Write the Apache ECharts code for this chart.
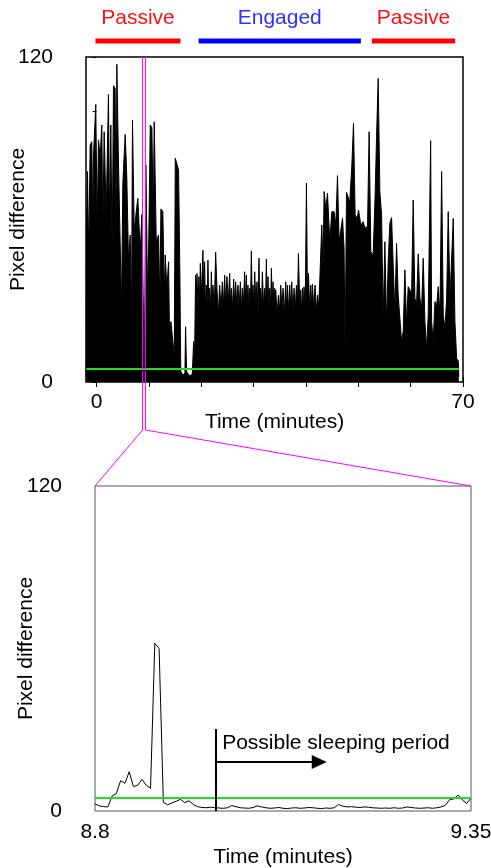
<!DOCTYPE html>
<html><head><meta charset="utf-8">
<script src="https://cdn.jsdelivr.net/npm/echarts@6/dist/echarts.min.js"></script>
<style>html,body{margin:0;padding:0;background:#fff}#chart{width:491px;height:868px}</style>
</head><body><div id="chart"></div>
<script>
// ---------- data ----------
// overview (minutes, pixel difference): passive, engaged, passive parts
const overviewTimes = [
-1.95,-1.91,-1.72,-1.47,-1.21,-0.9,-0.7,-0.57,-0.13,0.13,0.38,0.7,1.02,1.21,1.47,1.85,2.29,2.49,2.74,3.0,
3.25,3.57,3.76,3.89,4.21,4.52,4.78,5.03,5.49,5.8,6.12,6.44,6.69,6.88,7.21,7.59,7.9,8.36,8.67,8.89,
9.15,9.43,9.75,9.94,10.27,10.58,10.84,11.03,11.42,11.86,12.11,12.3,12.68,12.95,13.13,13.44,13.77,13.96,14.21,14.59,
14.86,15.05,15.36,15.68,15.93,16.1,16.5,16.89,17.02,17.21,17.78,18.3,18.55,18.74,
18.93,19.06,19.19,19.38,19.57,19.7,19.83,20.08,20.33,20.49,
20.65,20.82,20.98,21.13,21.29,21.45,21.61,21.78,21.94,22.09,
22.24,22.5,22.76,23.01,23.27,23.52,23.78,24.04,24.29,24.48,
24.7,24.92,25.19,25.44,25.6,25.76,25.98,26.2,26.39,26.58,
26.83,27.02,27.25,27.48,27.67,27.86,28.08,28.3,28.47,28.63,
28.78,28.93,29.1,29.26,29.42,29.58,29.74,29.89,30.05,30.22,
30.44,30.66,30.85,31.04,31.17,31.31,31.5,31.69,31.9,32.13,
32.29,32.45,32.6,32.76,32.92,33.08,33.25,33.41,33.56,33.72,
33.88,34.04,34.14,34.23,34.5,34.75,34.97,35.19,35.41,35.63,
35.88,36.14,36.3,36.47,36.69,36.91,37.1,37.29,37.51,37.73,
37.96,38.19,38.38,38.57,38.82,39.01,39.17,39.34,39.49,39.64,
39.87,40.1,40.3,40.49,40.71,40.93,41.09,41.25,41.5,41.75,
41.98,42.21,42.43,42.65,
43.03,43.28,43.47,43.79,44.12,44.56,44.94,45.38,45.71,46.03,46.34,46.66,46.99,47.29,47.49,47.75,
48.14,48.38,48.77,49.09,49.4,49.78,50.05,50.49,50.93,51.31,51.77,52.07,52.4,52.84,53.22,53.49,53.8,54.12,54.45,54.75,
55.08,55.4,55.71,56.03,56.36,56.67,56.99,57.31,57.62,57.95,58.27,58.58,58.9,59.23,59.53,59.86,60.18,60.49,60.81,61.14,
61.45,61.77,62.1,62.4,62.73,63.05,63.36,63.82,64.01,64.31,64.64,64.96,65.27,65.6,65.92,66.23,66.55,66.88,67.18,67.51,
67.83,68.14,68.46,68.79,69.1,69.2];
const overviewValues = [
2,56,77.7,47,87.5,88.7,59,83.8,102.5,56.7,89.4,83.2,94.9,56.7,92.4,61.7,106.2,59.2,94.9,46.9,
109.4,108.4,51.8,117.3,80.1,51.8,27.2,73.4,91.4,75.2,44.4,54.3,24.7,96.7,55.5,62.9,67.8,48.1,61.9,62,
1.5,80.1,34.6,45.7,94.9,93.9,61.7,96.1,51.8,54.3,28.4,63.9,62.9,32.1,46.9,34.6,44.4,16.1,22.3,14.9,
10,82.6,82.3,78.3,40,4,2.6,3.2,20.4,3.8,2.3,2.8,14.9,10,
39.5,30,40.1,28,38.9,29,43.8,32.1,48.7,31,
44.4,27,35.8,28,45,29,34.6,26,40.7,29,
35.8,27,47.9,34.6,24.7,35.8,27,37,28.4,39.5,
28,38.9,29.7,40.1,28,34.6,27,38,29,37,
27.2,35.8,28,37,27,34.6,29,40.7,30,39.5,
28,35.8,27,34.6,29,48.4,30,35.8,28,40.7,
29,37,24.7,45.7,28,34.6,27,40.7,28,34.6,
29,45.4,28,38.9,27,34.6,28,42,29,37,
27,34.6,26,34,25,32.1,26,35.8,27,34.6,
25,37,27,35.8,26,35.8,27,37,26,34.6,
27,35.8,28,47.5,28.4,34,26,34.6,27,35.2,
28,73.4,30,40.1,27,35.8,28,36.1,27,35.8,
26,32.1,28,37.7,
58,42,70.3,64.1,69.7,51.8,62.9,62.9,58,76.2,51.8,51.8,60.4,49.4,10,70,
67.8,66.6,80.1,95.5,61.7,60.4,63.5,58,59.2,56.7,57.7,92.4,48.1,46.9,69,90.6,112.1,70.3,61.7,23.5,
51.8,21,44.4,58.6,60.7,43.2,26,51.2,32.1,23.5,14.9,18.6,41.4,21,35.2,34.6,32.7,67.2,30.9,29,
47.3,30.9,27.2,45.7,22.3,12.4,24.7,89.1,22.3,14.9,29.7,27.8,35.2,24.7,77.7,24.7,19.8,30.9,62.9,30.9,
30.3,60.4,22.3,8.7,7.8,2];

const zoomStart = 8.8, zoomEnd = 9.35, zoomStep = 0.00625;
const zoomValues = [
2.6,1.9,1.6,1.5,5.5,6.5,11.2,10.2,14.5,9,9.5,11.7,9.5,8.4,61.9,60,3.2,2.3,3,3.6,
4.3,3.1,3.8,2.4,1.6,1.3,1.2,1.4,1.3,1.1,
1.0,1.2,2.0,1.6,1.2,1.1,1.0,1.3,1.9,1.5,1.2,1.0,1.1,1.3,1.0,0.9,1.1,1.2,1.0,1.1,
1.3,1.2,1.0,0.9,1.1,1.0,1.2,2.4,1.8,1.5,1.6,1.4,1.3,1.5,1.4,1.2,1.1,1.0,1.1,1.0,
1.2,1.0,1.1,1.5,1.3,1.1,1.0,1.1,1.2,1.0,
1.2,1.5,2.1,4.2,4.5,5.9,4.0,2.8,4.8];

const threshold = 4.8;
const overviewXMin = -2, overviewXMax = 70;
const overviewXTicks = [0,10,20,30,40,50,60,70];
const overviewXLabels = [0,70];
const zoomXLabels = [8.8, 9.35];
const yMin = 0, yMax = 120;

const phaseNames = ['Passive','Engaged','Passive'];
const phaseStart = [-0.2, 19.5, 52.6];
const phaseEnd = [16.05, 50.5, 68.5];
const phaseBarColors = ['#ff0000','#0000ff','#ff0000'];
const phaseTextColors = ['#ff1010','#3030ff','#ff1010'];

const sleepStart = 8.977, sleepLineTop = 30.3, arrowLevel = 18.1, arrowEnd = 9.128;
const sleepText = 'Possible sleeping period';
const sleepTextPos = [8.986, 25.1];

// ---------- chart ----------
const FONT = 'Liberation Sans, Arial, sans-serif';
const chart = echarts.init(document.getElementById('chart'), null, {renderer:'canvas'});
const overviewData = overviewTimes.map((t,i)=>[t, overviewValues[i]]);
const zoomData = zoomValues.map((v,i)=>[zoomStart + i*zoomStep, v]);
const nameStyle = {fontSize:21, color:'#000', fontFamily:FONT};
const labelStyle = {fontSize:21, color:'#000', fontFamily:FONT};

const option = {
  animation:false,
  backgroundColor:'#fff',
  textStyle:{fontFamily:FONT},
  grid:[
    {left:86, top:57, width:377, height:325, show:true, borderColor:'#000', borderWidth:1.5, backgroundColor:'transparent', containLabel:false, outerBoundsMode:'none'},
    {left:95, top:486, width:376, height:325, show:true, borderColor:'#555', borderWidth:1, backgroundColor:'transparent', containLabel:false, outerBoundsMode:'none'}
  ],
  xAxis:[
    {gridIndex:0, type:'value', min:overviewXMin, max:overviewXMax, position:'bottom',
     axisLine:{show:false}, splitLine:{show:false},
     axisTick:{show:true, inside:true, length:5, customValues:overviewXTicks, lineStyle:{color:'#000'}},
     axisLabel:{customValues:overviewXLabels, margin:10, ...labelStyle},
     name:'Time (minutes)', nameLocation:'middle', nameGap:30, nameMoveOverlap:false, nameTextStyle:nameStyle},
    {gridIndex:0, type:'value', min:overviewXMin, max:overviewXMax, position:'top',
     axisLine:{show:false}, splitLine:{show:false},
     axisTick:{show:true, inside:true, length:5, customValues:overviewXTicks, lineStyle:{color:'#000'}},
     axisLabel:{show:false}},
    {gridIndex:1, type:'value', min:zoomStart, max:zoomEnd, position:'bottom',
     axisLine:{show:false}, splitLine:{show:false}, axisTick:{show:false},
     axisLabel:{customValues:zoomXLabels, margin:11, ...labelStyle},
     name:'Time (minutes)', nameLocation:'middle', nameGap:36, nameMoveOverlap:false, nameTextStyle:nameStyle}
  ],
  yAxis:[
    {gridIndex:0, type:'value', min:yMin, max:yMax, interval:120, position:'left',
     axisLine:{show:false}, splitLine:{show:false}, axisTick:{show:false},
     axisLabel:{margin:33, ...labelStyle},
     name:'Pixel difference', nameLocation:'middle', nameRotate:90, nameGap:57, nameMoveOverlap:false, nameTextStyle:nameStyle},
    {gridIndex:0, type:'value', min:yMin, max:yMax, interval:20, position:'right',
     axisLine:{show:false}, splitLine:{show:false},
     axisTick:{show:true, inside:true, length:4, lineStyle:{color:'#000'}},
     axisLabel:{show:false}},
    {gridIndex:1, type:'value', min:yMin, max:yMax, interval:120, position:'left',
     axisLine:{show:false}, splitLine:{show:false}, axisTick:{show:false},
     axisLabel:{margin:33, ...labelStyle},
     name:'Pixel difference', nameLocation:'middle', nameRotate:90, nameGap:58.5, nameMoveOverlap:false, nameTextStyle:nameStyle}
  ],
  series:[
    {type:'line', xAxisIndex:0, yAxisIndex:0, data:overviewData, symbol:'none',
     lineStyle:{color:'#000', width:1}, areaStyle:{color:'#000', opacity:1}, z:2,
     markLine:{silent:true, symbol:['none','none'], label:{show:false}, animation:false,
       lineStyle:{color:'#22dd22', width:2, type:'solid'},
       data:[[{coord:[overviewTimes[0], threshold]},{coord:[overviewTimes[overviewTimes.length-1], threshold]}]]}},
    {type:'line', xAxisIndex:2, yAxisIndex:2, data:zoomData, symbol:'none',
     lineStyle:{color:'#000', width:1}, z:2,
     markLine:{silent:true, symbol:['none','none'], label:{show:false}, animation:false,
       lineStyle:{color:'#000', width:2, type:'solid'},
       data:[
         [{coord:[zoomStart, threshold], lineStyle:{color:'#22dd22', width:2}},{coord:[zoomEnd, threshold]}],
         [{coord:[sleepStart, 0]},{coord:[sleepStart, sleepLineTop]}],
         [{coord:[sleepStart, arrowLevel], symbol:'none'},{coord:[arrowEnd, arrowLevel], symbol:'triangle', symbolSize:[14,15]}]
       ]}}
  ]
};
chart.setOption(option);

// annotations positioned through the axes
const p0 = pt => chart.convertToPixel({seriesIndex:0}, pt);
const p1 = pt => chart.convertToPixel({seriesIndex:1}, pt);
const graphics = [];
phaseNames.forEach((name,i)=>{
  const a = p0([phaseStart[i], yMax])[0], b = p0([phaseEnd[i], yMax])[0];
  graphics.push({type:'rect', z:100, shape:{x:a, y:38.5, width:b-a, height:5}, style:{fill:phaseBarColors[i]}});
  graphics.push({type:'text', z:100, x:(a+b)/2, y:18, style:{text:name, fill:phaseTextColors[i], font:'21px '+FONT, textAlign:'center', textVerticalAlign:'middle'}});
});
const bendY = 430;
const topL = p0([zoomStart, yMax]), topR = p0([zoomEnd, yMax]);
const cornerL = p1([zoomStart, yMax]), cornerR = p1([zoomEnd, yMax]);
graphics.push({type:'polyline', z:100, shape:{points:[[topL[0], topL[1]],[topL[0], bendY],[cornerL[0], cornerL[1]]]}, style:{stroke:'#ff00ff', lineWidth:1, fill:null}});
graphics.push({type:'polyline', z:100, shape:{points:[[topR[0], topR[1]],[topR[0], bendY],[cornerR[0], cornerR[1]]]}, style:{stroke:'#ff00ff', lineWidth:1, fill:null}});
const tp = p1(sleepTextPos);
graphics.push({type:'text', z:100, x:tp[0], y:tp[1], style:{text:sleepText, fill:'#000', font:'21px '+FONT, textAlign:'left', textVerticalAlign:'middle'}});
chart.setOption({graphic:graphics});
</script>
</body></html>
